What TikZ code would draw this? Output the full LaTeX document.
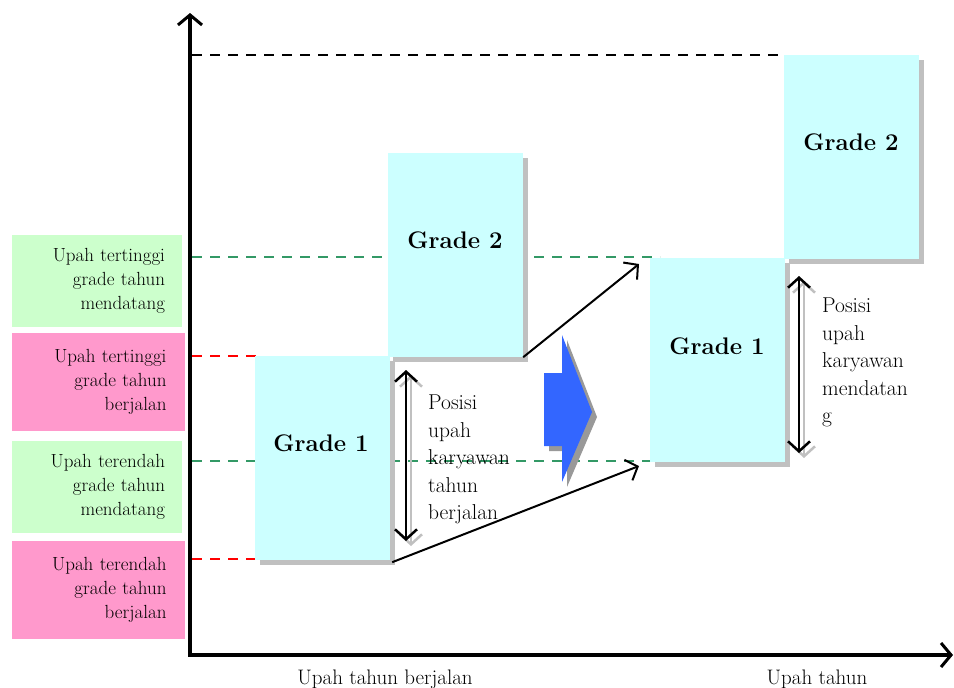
\documentclass[tikz,border=0pt]{standalone}
\usepackage{fontspec}
\usetikzlibrary{arrows.meta,shadows}

\definecolor{cyanbox}{HTML}{CCFFFF}
\definecolor{greenbox}{HTML}{CCFFCC}
\definecolor{pinkbox}{HTML}{FF99CC}
\definecolor{shadowgray}{HTML}{C0C0C0}
\definecolor{bluearrow}{HTML}{3366FF}
\definecolor{greendash}{HTML}{339966}
\definecolor{reddash}{HTML}{FF0000}

\begin{document}
\begin{tikzpicture}[x=1pt,y=-1pt,
  axis/.style={line width=3.5pt,{Straight Barb[length=10pt,width=24pt,line width=3pt]}-{Straight Barb[length=10pt,width=24pt,line width=3pt]}},
  conn/.style={line width=2pt,-{Straight Barb[length=10pt,width=22pt,line width=2pt]}},
  span/.style={line width=2.5pt,{Straight Barb[length=10pt,width=22pt,line width=2.5pt]}-{Straight Barb[length=10pt,width=22pt,line width=2.5pt]}},
  spanshadow/.style={span,draw=shadowgray},
  levdash/.style={line width=2.5pt,dash pattern=on 10pt off 8pt},
  gradebox/.style={fill=cyanbox,draw=none,inner sep=0pt,minimum width=135pt,minimum height=204pt,
    drop shadow={shadow xshift=5pt,shadow yshift=-5pt,fill=shadowgray,opacity=1}},
  gradetext/.style={font=\bfseries\fontsize{24}{28}\selectfont},
  levlabel/.style={inner xsep=17pt,inner ysep=0pt,align=right,text width=136pt,
    font=\fontsize{19}{24}\selectfont},
  postext/.style={anchor=north west,align=left,inner sep=0pt,font=\fontsize{21.5}{27.5}\selectfont},
  axislabel/.style={font=\fontsize{21}{25}\selectfont},
]
\useasboundingbox (0,0) rectangle (954,688);

% level labels on the left
\node[levlabel,fill=greenbox,minimum width=170pt,minimum height=92pt] (hinext) at (97,281)
  {Upah tertinggi\\grade tahun\\mendatang};
\node[levlabel,fill=pinkbox,minimum width=173pt,minimum height=98pt] (hicur) at (98.5,382)
  {Upah tertinggi\\grade tahun\\berjalan};
\node[levlabel,fill=greenbox,minimum width=170pt,minimum height=92pt] (lonext) at (97,487)
  {Upah terendah\\grade tahun\\mendatang};
\node[levlabel,fill=pinkbox,minimum width=173pt,minimum height=98pt] (locur) at (98.5,590)
  {Upah terendah\\grade tahun\\berjalan};

% level lines
\draw[levdash,black] (192,55) -- (785,55);
\draw[levdash,greendash] (192,257) -- (660,257);
\draw[levdash,greendash] (192,461) -- (655,461);
\draw[levdash,reddash] (192,356) -- (256,356);
\draw[levdash,reddash] (192,559) -- (256,559);

% axes
\coordinate (ytop) at (190,13);
\coordinate (orig) at (190,655);
\coordinate (xend) at (953,655);
\draw[axis] (ytop) -- (orig) -- (xend);

% grade boxes
\node[gradebox] (g1a) at (322.5,458) {};
\node[gradebox] (g2a) at (455.5,255) {};
\node[gradebox] (g1b) at (717.5,360) {};
\node[gradebox] (g2b) at (851,157) {};
\node[gradetext] (t1a) at (321,443) {Grade 1};
\node[gradetext] (t2a) at (455,240) {Grade 2};
\node[gradetext] (t1b) at (717,346) {Grade 1};
\node[gradetext] (t2b) at (851,142) {Grade 2};

% current-year wage span
\coordinate (sa1) at (406,370);
\coordinate (sa2) at (406,541);
\draw[spanshadow] ([shift={(5,5)}]sa1) -- ([shift={(5,5)}]sa2);
\draw[span] (sa1) -- (sa2);
\node[postext] (pa) at (428,395) {Posisi\\upah\\karyawan\\tahun\\berjalan};

% next-year wage span
\coordinate (sb1) at (799,276);
\coordinate (sb2) at (799,453);
\draw[spanshadow] ([shift={(5,5)}]sb1) -- ([shift={(5,5)}]sb2);
\draw[span] (sb1) -- (sb2);
\node[postext] (pb) at (822,298) {Posisi\\upah\\karyawan\\mendatan\\g};

% shift of the grade range
\coordinate (ua) at (639,264);
\coordinate (ub) at (639,466);
\draw[conn] (g2a.south east) -- (ua);
\draw[conn] ([shift={(2,2)}]g1a.south east) -- (ub);

% block arrow
\fill[gray!80] (549,378) -- (567,378) -- (567,340) -- (597,417) -- (567,487) -- (567,451) -- (549,451) -- cycle;
\fill[bluearrow] (544,373) -- (562,373) -- (562,335) -- (592,412) -- (562,482) -- (562,446) -- (544,446) -- cycle;

% axis labels
\node[axislabel] (xa) at (385,679) {Upah tahun berjalan};
\node[axislabel] (xb) at (817,679) {Upah tahun};
\end{tikzpicture}
\end{document}
